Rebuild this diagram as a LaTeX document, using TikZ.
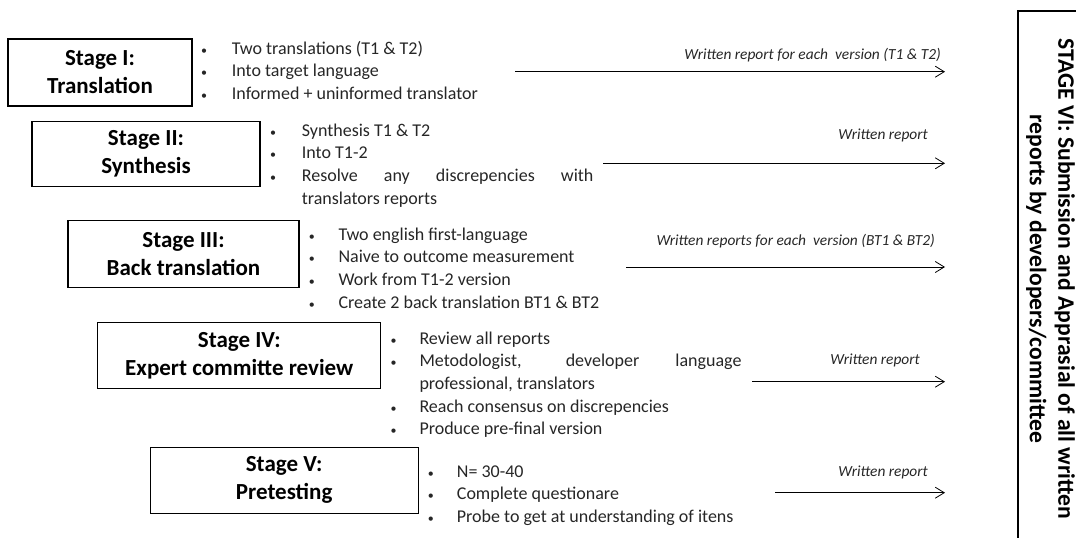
\documentclass[tikz,border=0pt]{standalone}
\usepackage{fontspec}
\setmainfont{Carlito}
\usetikzlibrary{arrows.meta}
\newlength{\bulletind}
\newcommand{\bi}[1]{\strut\makebox[\bulletind][l]{\fontsize{12}{12}\selectfont •}#1}
\newcommand{\cont}[1]{\strut\hspace*{\bulletind}#1}
\begin{document}
\begin{tikzpicture}[x=1pt,y=-1pt,
  stagebox/.style={draw, line width=1.3pt, align=center, inner sep=0pt,
    font=\fontsize{23}{28}\selectfont\bfseries},
  blist/.style={anchor=north west, align=left, inner sep=0pt, text=black!85,
    font=\fontsize{18}{22.6}\selectfont,
    execute at begin node={\setlength{\bulletind}{#1}}},
  note/.style={anchor=base east, inner sep=0pt, text=black!85,
    font=\fontsize{15.4}{18}\selectfont\itshape},
  flow/.style={line width=0.8pt, -{Straight Barb[length=9pt,width=11pt,line width=0.8pt]}}]
\useasboundingbox (0,0) rectangle (1076,538);

% stage boxes
\node[stagebox, minimum width=184, minimum height=67] (s1) at (100,72.5) {Stage I:\\Translation};
\node[stagebox, minimum width=228, minimum height=65] (s2) at (146,154.2) {Stage II:\\Synthesis};
\node[stagebox, minimum width=231, minimum height=66.6] (s3) at (183.5,254) {Stage III:\\Back translation};
\node[stagebox, minimum width=283, minimum height=66] (s4) at (239.3,355.3) {Stage IV:\\Expert committe review};
\node[stagebox, minimum width=268, minimum height=66] (s5) at (284.2,480.3) {Stage V:\\Pretesting};

% bullet lists
\node[blist=30.7pt] (l1) at (201,38.2) {%
  \bi{Two translations (T1 \& T2)}\\
  \bi{Into target language}\\
  \bi{Informed + uninformed translator}};
\node[blist=31.7pt] (l2) at (270,120.2) {%
  \bi{Synthesis T1 \& T2}\\
  \bi{Into T1-2}\\
  \bi{\makebox[291.5pt][s]{Resolve any discrepencies with}}\\
  \cont{translators reports}};
\node[blist=29.6pt] (l3) at (308.7,224.2) {%
  \bi{Two english first-language}\\
  \bi{Naive to outcome measurement}\\
  \bi{Work from T1-2 version}\\
  \bi{Create 2 back translation BT1 \& BT2}};
\node[blist=29pt] (l4) at (390.3,328.2) {%
  \bi{Review all reports}\\
  \bi{\makebox[322pt][s]{Metodologist, developer language}}\\
  \cont{professional, translators}\\
  \bi{Reach consensus on discrepencies}\\
  \bi{Produce pre-final version}};
\node[blist=29pt] (l5) at (427.7,461.2) {%
  \bi{N= 30-40}\\
  \bi{Complete questionare}\\
  \bi{Probe to get at understanding of itens}};

% final stage
\node[draw, line width=1.3pt, minimum width=72, minimum height=548, inner sep=0pt] (s6) at (1054,285) {};
\node[rotate=-90, align=center, inner sep=0pt,
  font=\fontsize{23.6}{28.5}\selectfont\bfseries] (s6t) at (1050.5,279)
  {STAGE VI: Submission and Apprasial of all written\\reports by developers/committee};

% report arrows
\coordinate (a1s) at (515,71.7);  \coordinate (a1e) at (945,71.7);
\coordinate (a2s) at (603,163.3); \coordinate (a2e) at (945,163.3);
\coordinate (a3s) at (626,267);   \coordinate (a3e) at (945,267);
\coordinate (a4s) at (752,381.7); \coordinate (a4e) at (945,381.7);
\coordinate (a5s) at (775,492.7); \coordinate (a5e) at (945,492.7);
\draw[flow] (a1s) -- (a1e);
\draw[flow] (a2s) -- (a2e);
\draw[flow] (a3s) -- (a3e);
\draw[flow] (a4s) -- (a4e);
\draw[flow] (a5s) -- (a5e);

\node[note] (w1) at (941,59) {Written report for each\ \ version (T1 \& T2)};
\node[note] (w2) at (928,139) {Written report};
\node[note] (w3) at (935,245) {Written reports for each\ \ version (BT1 \& BT2)};
\node[note] (w4) at (920,364) {Written report};
\node[note] (w5) at (928,476) {Written report};
\end{tikzpicture}
\end{document}
